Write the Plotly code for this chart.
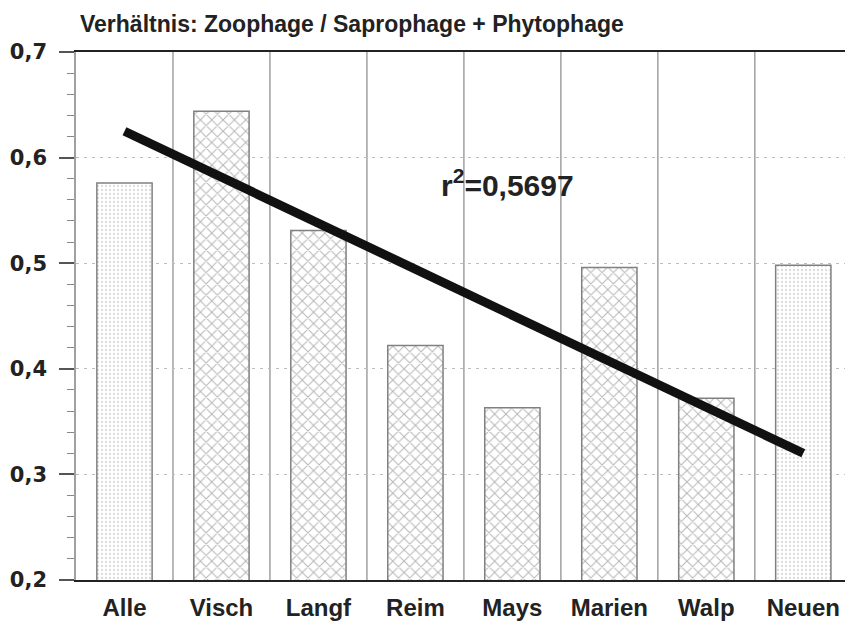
import plotly.graph_objects as go

categories = ["Alle", "Visch", "Langf", "Reim", "Mays", "Marien", "Walp", "Neuen"]
ratio_values = [0.576, 0.644, 0.531, 0.422, 0.363, 0.496, 0.372, 0.498]
bar_patterns = [".", "x", "x", "x", "x", "x", "x", "."]
trend_x = ["Alle", "Neuen"]
trend_y = [0.625, 0.320]
r2_label = "r<sup>2</sup>=0,5697"
title_text = "Verhältnis: Zoophage / Saprophage + Phytophage"
y_ticks = [0.2, 0.3, 0.4, 0.5, 0.6, 0.7]

pattern_sizes = [4 if p == "." else 8 for p in bar_patterns]
pattern_solid = [0.25 if p == "." else 0.24 for p in bar_patterns]
pattern_fg = ["#b5b5b5" if p == "." else "#6e6e6e" for p in bar_patterns]

fig = go.Figure()

fig.add_trace(go.Bar(
    x=categories,
    y=ratio_values,
    width=0.57,
    marker=dict(
        color="white",
        line=dict(color="#808080", width=1.5),
        pattern=dict(shape=bar_patterns, fgcolor=pattern_fg, bgcolor="white",
                     size=pattern_sizes, solidity=pattern_solid),
    ),
    showlegend=False,
    hoverinfo="x+y",
))

fig.add_trace(go.Scatter(
    x=trend_x, y=trend_y, mode="lines",
    line=dict(color="#111111", width=9),
    showlegend=False, hoverinfo="skip",
))

shapes = []
for i in range(len(categories) - 1):
    shapes.append(dict(type="line", xref="x", yref="paper",
                       x0=i + 0.5, x1=i + 0.5, y0=0, y1=1,
                       line=dict(color="#a0a0a0", width=1.5), layer="below"))

fig.update_layout(
    width=845, height=624,
    margin=dict(l=76, r=0, t=52, b=44, autoexpand=False),
    paper_bgcolor="white", plot_bgcolor="white",
    separators=",.",
    shapes=shapes,
    title=dict(text=title_text, xref="container", yref="container",
               x=80 / 845, y=1 - 24 / 624, xanchor="left", yanchor="middle",
               automargin=False,
               font=dict(family="Liberation Sans", size=23, color="#222222",
                         weight="bold")),
    annotations=[dict(text=r2_label, xref="x", yref="y", x=3.95, y=0.576,
                      showarrow=False, xanchor="center", yanchor="middle",
                      font=dict(family="Liberation Sans", size=30,
                                color="#222222", weight="bold"))],
)

fig.update_xaxes(
    type="category", range=[-0.5, 7.43], automargin=False,
    showline=True, linecolor="#222222", linewidth=2, mirror=True,
    showgrid=False, ticks="", ticklabelstandoff=5,
    ticklabeloverflow="allow",
    tickfont=dict(family="Liberation Sans", size=24, color="#222222",
                  weight="bold"),
)

fig.update_yaxes(
    range=[0.2, 0.7], tickvals=y_ticks, tickformat=".1f", automargin=False,
    showline=True, linecolor="#a0a0a0", linewidth=1.5,
    showgrid=True, gridcolor="#bdbdbd", griddash="3px,5px", gridwidth=1,
    zeroline=False,
    ticks="outside", ticklen=15, tickwidth=1.5, tickcolor="#555555",
    ticklabelstandoff=8,
    minor=dict(ticks="outside", ticklen=7, dtick=0.02, tickcolor="#888888",
               tickwidth=1, showgrid=False),
    tickfont=dict(family="DejaVu Sans", size=21, color="#222222",
                  weight="bold"),
)

fig.write_html(
    "out.html",
    config={"displayModeBar": False},
    post_script="document.body.style.margin='0';"
                "document.body.style.overflow='hidden';",
)
